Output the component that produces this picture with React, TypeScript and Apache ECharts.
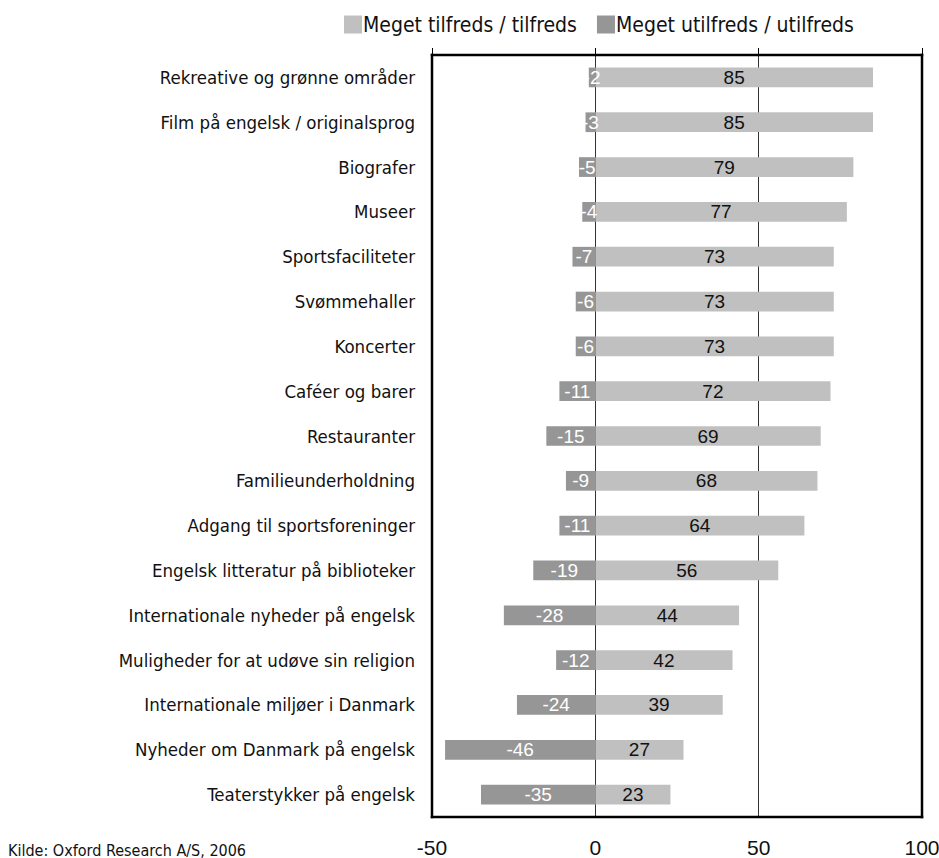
import React, { useEffect, useRef } from "react";
import * as echarts from "echarts";

const categories = [
  "Rekreative og grønne områder",
  "Film på engelsk / originalsprog",
  "Biografer",
  "Museer",
  "Sportsfaciliteter",
  "Svømmehaller",
  "Koncerter",
  "Caféer og barer",
  "Restauranter",
  "Familieunderholdning",
  "Adgang til sportsforeninger",
  "Engelsk litteratur på biblioteker",
  "Internationale nyheder på engelsk",
  "Muligheder for at udøve sin religion",
  "Internationale miljøer i Danmark",
  "Nyheder om Danmark på engelsk",
  "Teaterstykker på engelsk",
];

const satisfied = [85, 85, 79, 77, 73, 73, 73, 72, 69, 68, 64, 56, 44, 42, 39, 27, 23];
const dissatisfied = [-2, -3, -5, -4, -7, -6, -6, -11, -15, -9, -11, -19, -28, -12, -24, -46, -35];

const seriesNames = ["Meget tilfreds / tilfreds", "Meget utilfreds / utilfreds"];
const xTicks = { min: -50, max: 100, interval: 50 };
const sourceText = "Kilde: Oxford Research A/S, 2006";

const labelFont = "'DejaVu Sans Condensed', 'DejaVu Sans', sans-serif";
const numFont = "'Liberation Sans', Arial, sans-serif";

// plot area box in pixels
const GRID = { left: 432, top: 55, width: 490, height: 762 };
const G_RIGHT = GRID.left + GRID.width;
const G_BOTTOM = GRID.top + GRID.height;
const FRAME_W = 2.5;
const H = FRAME_W / 2;

// frame around the plot area, drawn as four thin filled bands
const frameBands = [
  { x: GRID.left - H, y: GRID.top - H, width: GRID.width + FRAME_W, height: FRAME_W },
  { x: GRID.left - H, y: G_BOTTOM - H, width: GRID.width + FRAME_W, height: FRAME_W },
  { x: GRID.left - H, y: GRID.top - H, width: FRAME_W, height: GRID.height + FRAME_W },
  { x: G_RIGHT - H, y: GRID.top - H, width: FRAME_W, height: GRID.height + FRAME_W },
];

export default function App() {
  const ref = useRef<HTMLDivElement>(null);

  useEffect(() => {
    document.body.style.margin = "0";
    if (!ref.current) return;
    const chart = echarts.init(ref.current, undefined, { renderer: "svg" });
    chart.setOption({
      animation: false,
      backgroundColor: "#ffffff",
      legend: {
        left: 344,
        top: 14,
        padding: 0,
        itemWidth: 18,
        itemHeight: 18,
        itemGap: 20,
        icon: "rect",
        textStyle: { fontFamily: labelFont, fontSize: 21, color: "#111", padding: [0, 0, 0, -4] },
        data: seriesNames,
      },
      grid: {
        left: GRID.left,
        top: GRID.top,
        width: GRID.width,
        height: GRID.height,
        outerBoundsMode: "none",
        containLabel: false,
      },
      xAxis: [
        {
          type: "value",
          position: "bottom",
          ...xTicks,
          axisLine: { show: false },
          axisTick: { show: false },
          axisLabel: { fontFamily: numFont, fontSize: 21, color: "#111", margin: 20 },
          splitLine: { show: true, lineStyle: { color: "#333", width: 1 } },
        },
        {
          type: "value",
          position: "top",
          ...xTicks,
          axisLine: { show: false },
          axisTick: { show: true, inside: false, length: 7, lineStyle: { color: "#000", width: 1 } },
          axisLabel: { show: false },
          splitLine: { show: false },
        },
      ],
      yAxis: {
        type: "category",
        data: categories,
        inverse: true,
        axisLine: { show: false },
        axisTick: { show: false },
        axisLabel: { fontFamily: labelFont, fontSize: 18.5, color: "#111", margin: 17 },
      },
      series: [
        {
          name: seriesNames[0],
          type: "bar",
          stack: "total",
          data: satisfied,
          barWidth: "44%",
          itemStyle: { color: "#c0c0c0" },
          label: { show: true, position: "inside", fontFamily: numFont, fontSize: 19, color: "#111" },
        },
        {
          name: seriesNames[1],
          type: "bar",
          stack: "total",
          data: dissatisfied,
          barWidth: "44%",
          itemStyle: { color: "#969696" },
          label: { show: true, position: "inside", fontFamily: numFont, fontSize: 19, color: "#ffffff" },
        },
      ],
      graphic: [
        ...frameBands.map((shape, i) => ({
          type: "rect",
          id: "frame" + i,
          z: 100,
          shape,
          style: { fill: "#000000" },
        })),
        {
          type: "text",
          id: "source",
          left: 8,
          top: 842,
          style: { text: sourceText, fontFamily: labelFont, fontSize: 16, fill: "#111" },
        },
      ],
    });
    return () => chart.dispose();
  }, []);

  return <div ref={ref} style={{ width: 939, height: 858 }} />;
}
